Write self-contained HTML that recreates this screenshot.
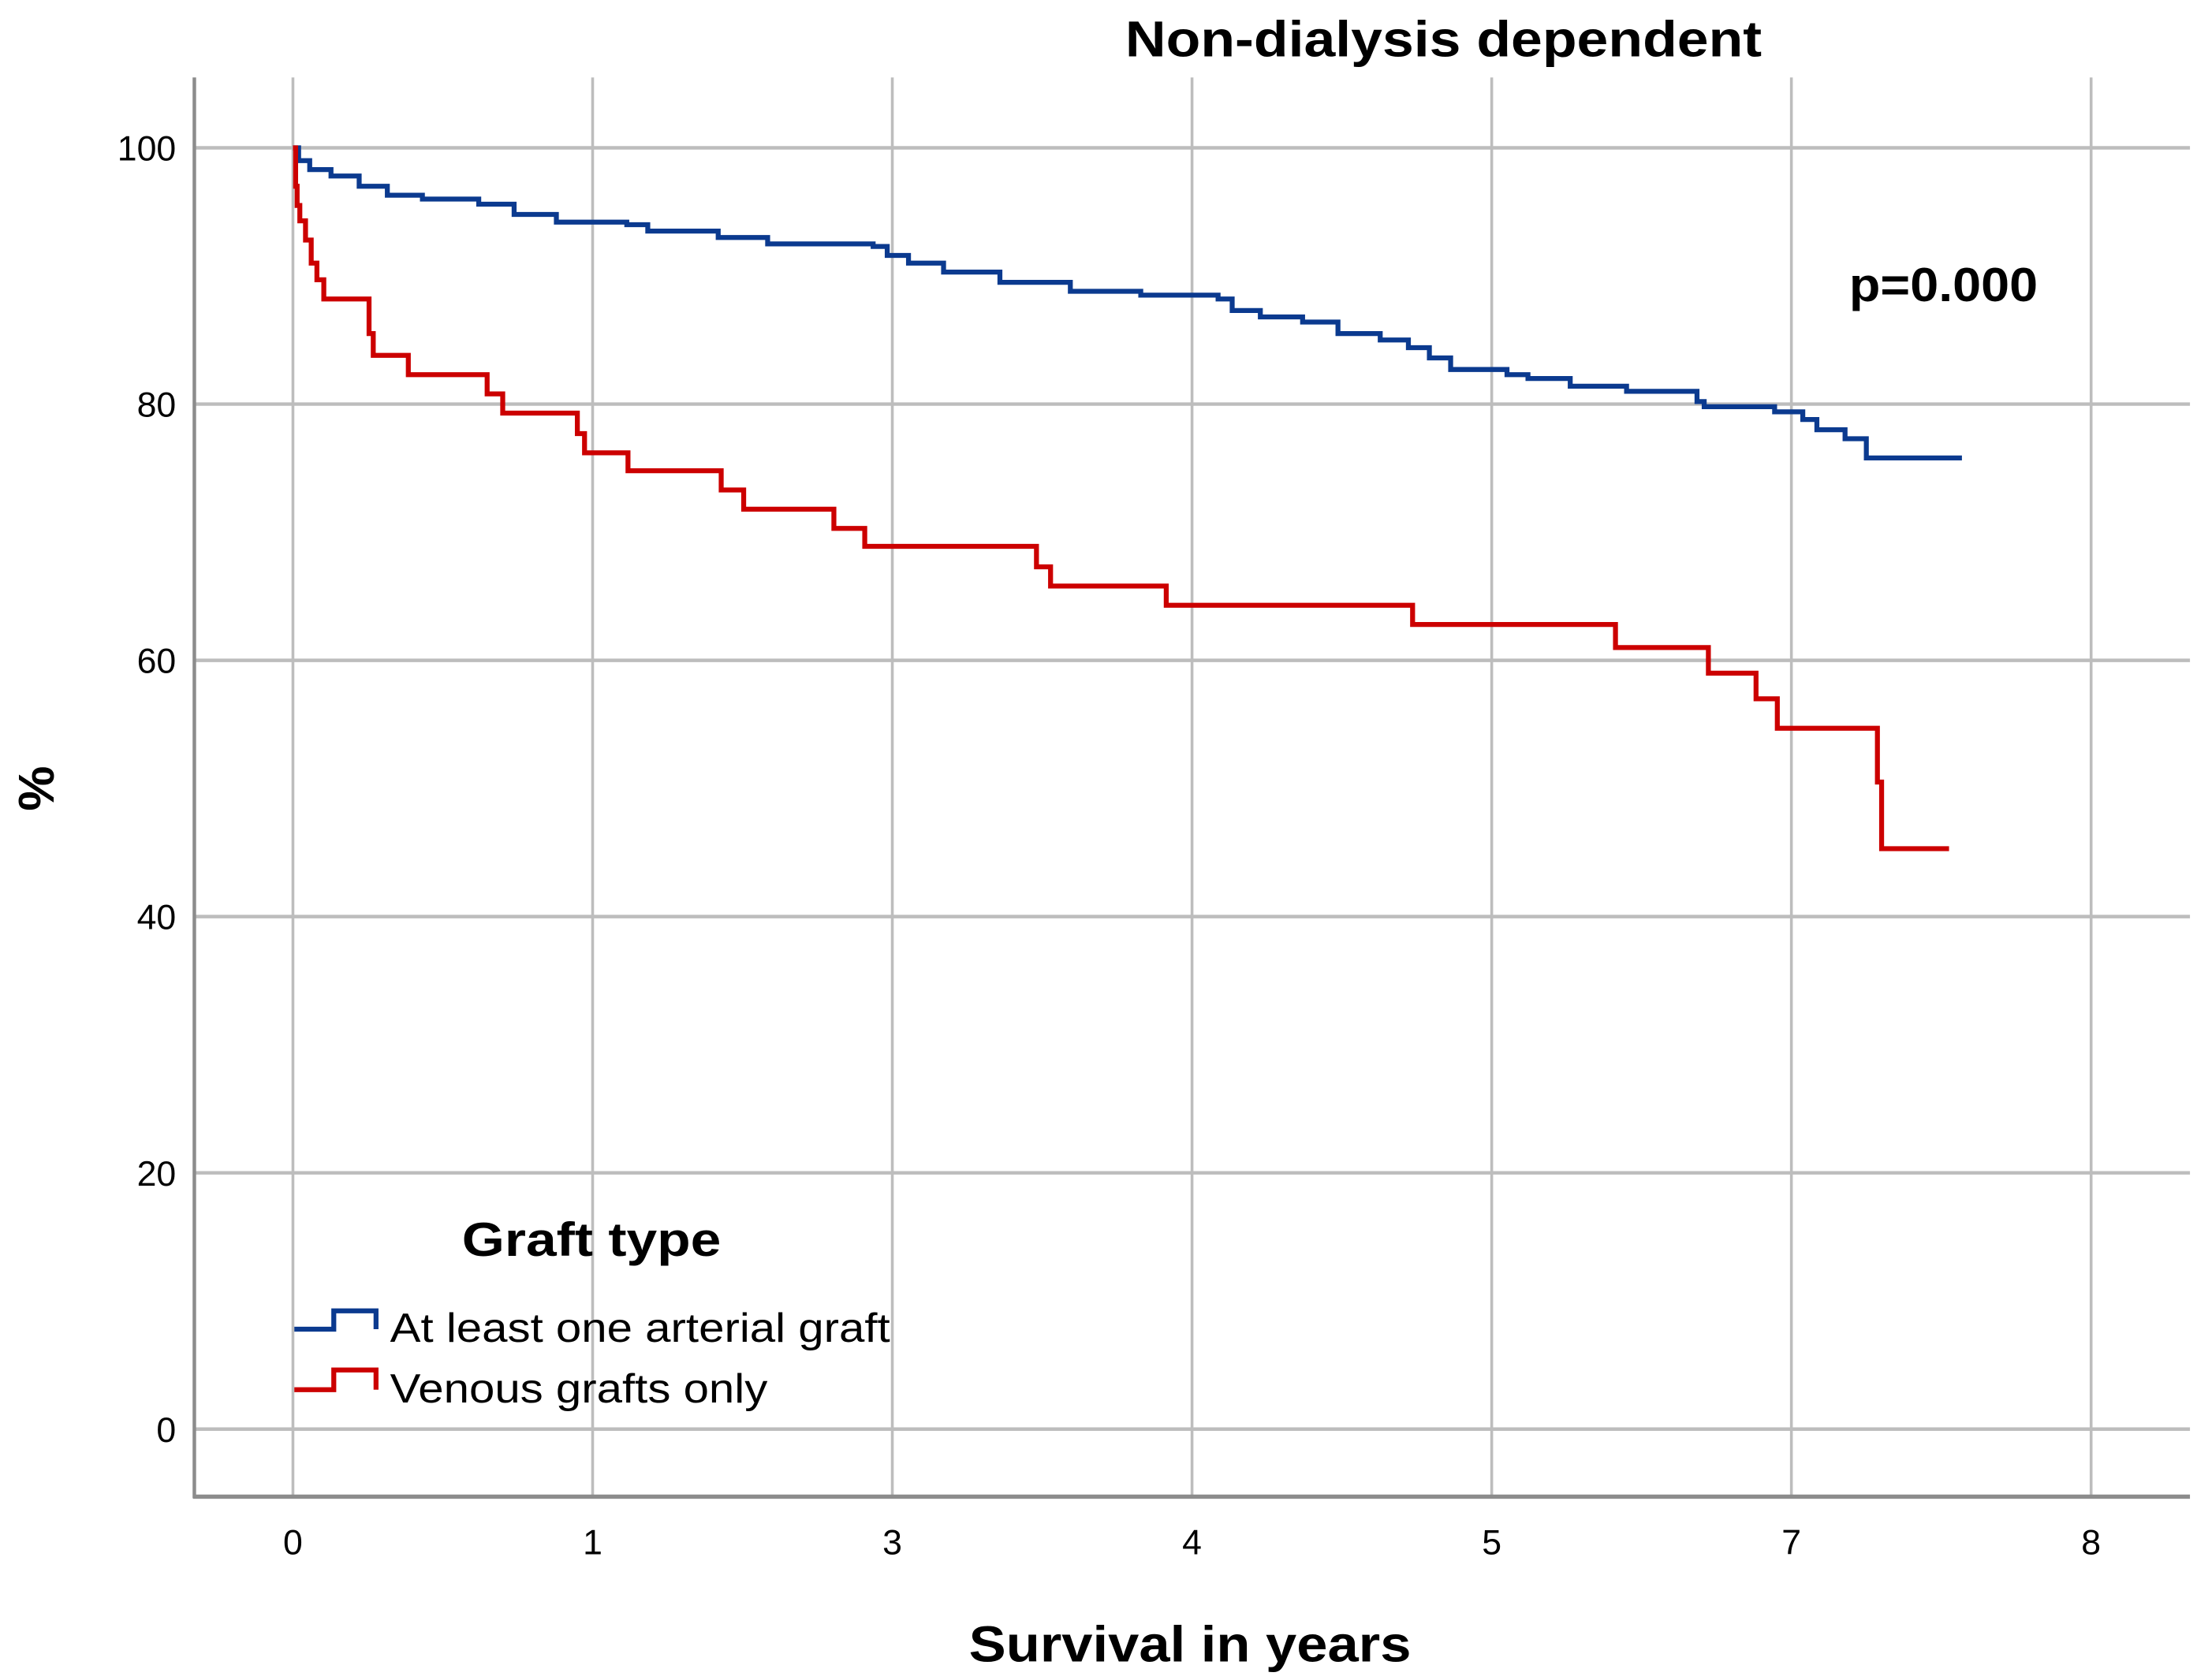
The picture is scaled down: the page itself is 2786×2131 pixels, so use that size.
<!DOCTYPE html>
<html><head><meta charset="utf-8"><style>
html,body{margin:0;padding:0;background:#fff}
svg{display:block}
text{font-family:"Liberation Sans",Arial,sans-serif;fill:#000}
</style></head><body>
<svg id="chart" width="2786" height="2131" viewBox="0 0 1560 1193.2" preserveAspectRatio="none" xmlns="http://www.w3.org/2000/svg">
<rect width="1560" height="1193.2" fill="#fff"/>
<g id="grid"></g>
<g id="series"></g>
<text x="1025" y="40" text-anchor="middle" font-size="36" font-weight="bold" textLength="452" lengthAdjust="spacingAndGlyphs">Non-dialysis dependent</text>
<text x="1313" y="214" font-size="34" font-weight="bold" textLength="134" lengthAdjust="spacingAndGlyphs">p=0.000</text>
<text transform="translate(38,560) rotate(-90)" text-anchor="middle" font-size="36" font-weight="bold">%</text>
<text x="845" y="1180" text-anchor="middle" font-size="36" font-weight="bold" textLength="314" lengthAdjust="spacingAndGlyphs">Survival in years</text>
<g>
<text x="328" y="892" font-size="34" font-weight="bold" textLength="184" lengthAdjust="spacingAndGlyphs">Graft type</text>
<path d="M209 944 H237 V931 H267 V944" fill="none" stroke="#0b3a8f" stroke-width="3.5"/>
<text x="277" y="953" font-size="29" textLength="355" lengthAdjust="spacingAndGlyphs">At least one arterial graft</text>
<path d="M209 987 H237 V973 H267 V987" fill="none" stroke="#cc0000" stroke-width="3.5"/>
<text x="277" y="996" font-size="29" textLength="268" lengthAdjust="spacingAndGlyphs">Venous grafts only</text>
</g>
</svg>
<script>
const xTickLabels = ["0","1","3","4","5","7","8"];
const yTicks = [0,20,40,60,80,100];
const blueTimes = [0,0.019,0.056,0.127,0.221,0.315,0.432,0.62,0.738,0.879,1.114,1.184,1.419,1.584,1.936,1.983,2.054,2.171,2.359,2.594,2.829,3.087,3.134,3.228,3.369,3.487,3.628,3.722,3.792,3.863,4.051,4.121,4.262,4.45,4.685,4.709,4.944,5.038,5.085,5.179,5.25];
const blueValues = [100,99,98.3,97.8,97,96.3,96,95.6,94.8,94.2,94,93.5,93,92.5,92.3,91.6,91,90.3,89.5,88.8,88.5,88.2,87.3,86.8,86.4,85.5,85,84.4,83.6,82.7,82.3,82,81.4,81,80.2,79.8,79.4,78.8,78,77.3,75.8];
const blueEnd = 5.569;
const redTimes = [0,0.009,0.014,0.023,0.042,0.061,0.08,0.103,0.254,0.268,0.385,0.648,0.7,0.949,0.973,1.118,1.429,1.504,1.805,1.908,2.481,2.528,2.914,3.736,4.413,4.723,4.882,4.953,5.287,5.301];
const redValues = [100,97,95.5,94.3,92.8,91,89.7,88.2,85.5,83.8,82.3,80.8,79.3,77.7,76.2,74.8,73.3,71.8,70.3,68.9,67.3,65.8,64.3,62.8,61,59,57,54.7,50.5,45.3];
const redEnd = 5.526;

const NS="http://www.w3.org/2000/svg";
const X0=208, XU=212.8, Y0=1015, YU=9.1;
const sx=t=>X0+t*XU, sy=v=>Y0-v*YU;
const grid=document.getElementById('grid'), series=document.getElementById('series');
function mk(tag,attrs,parent){const e=document.createElementNS(NS,tag);for(const k in attrs)e.setAttribute(k,attrs[k]);parent.appendChild(e);return e;}
yTicks.forEach(v=>{
  const l=mk('line',{x1:138,x2:1555,y1:sy(v),y2:sy(v),stroke:'#bdbdbd','stroke-width':2.5},grid);
  
  
  const t=mk('text',{x:125,y:sy(v)+9,'text-anchor':'end','font-size':25},grid);
  t.textContent=v;
  
  
});
xTickLabels.forEach((lab,i)=>{
  const l=mk('line',{x1:sx(i),x2:sx(i),y1:55,y2:1063,stroke:'#bdbdbd','stroke-width':2},grid);
  
  
  const t=mk('text',{x:sx(i),y:1104,'text-anchor':'middle','font-size':25},grid);
  t.textContent=lab;
  
  
});
const ya=mk('line',{x1:138,x2:138,y1:55,y2:1064,stroke:'#8c8c8c','stroke-width':2.5},grid);


const xa=mk('line',{x1:137,x2:1555,y1:1063,y2:1063,stroke:'#8c8c8c','stroke-width':3},grid);


function stepPath(ts,vs,end){
  let d='M'+sx(ts[0])+' '+sy(vs[0]);
  for(let i=1;i<ts.length;i++){d+=' H'+sx(ts[i])+' V'+sy(vs[i]);}
  d+=' H'+sx(end);
  return d;
}
const pb=mk('path',{d:stepPath(blueTimes,blueValues,blueEnd),fill:'none',stroke:'#0b3a8f','stroke-width':3.5},series);


const pr=mk('path',{d:stepPath(redTimes,redValues,redEnd),fill:'none',stroke:'#cc0000','stroke-width':3.5},series);


</script>
</body></html>
